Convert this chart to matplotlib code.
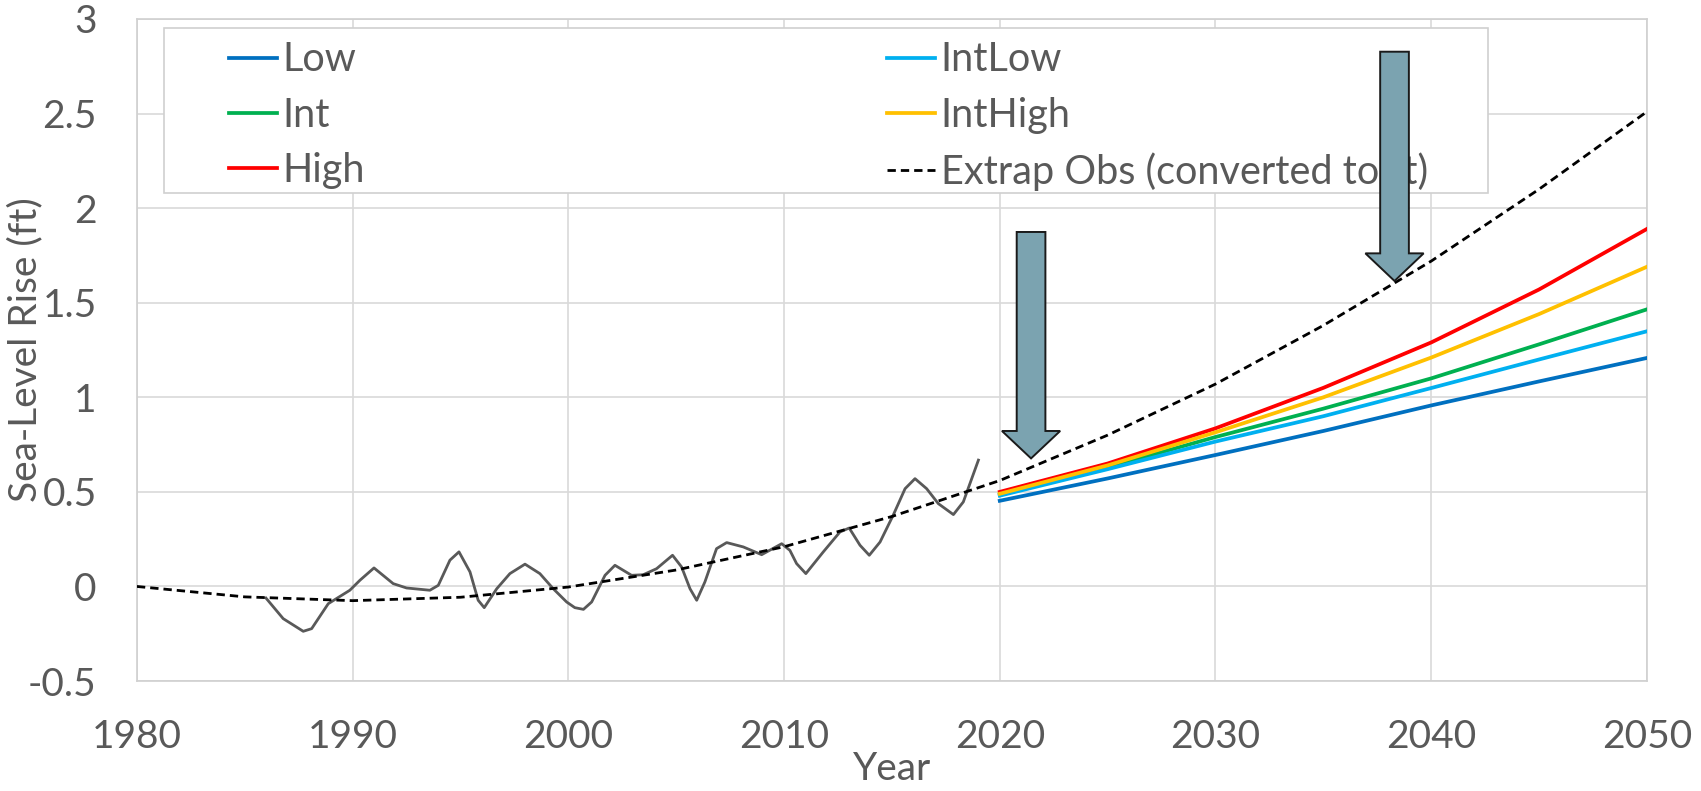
import matplotlib
matplotlib.use("Agg")
import matplotlib.pyplot as plt
from matplotlib.patches import FancyArrow, Rectangle

plt.rcParams['font.family'] = ['Lato', 'DejaVu Sans']

# observed sea level (smoothed), ft
obs_years = [1985.98, 1986.78, 1987.71, 1988.10, 1988.87, 1989.87, 1990.34, 1990.99, 1991.88,
             1992.50, 1993.58, 1993.97, 1994.51, 1994.93, 1995.44, 1995.82, 1996.10, 1996.68,
             1997.29, 1997.99, 1998.68, 1999.30, 1999.92, 2000.30, 2000.70, 2001.08, 2001.70,
             2002.16, 2002.93, 2003.47, 2004.09, 2004.83, 2005.25, 2005.64, 2005.95, 2006.33,
             2006.87, 2007.34, 2008.11, 2008.96, 2009.89, 2010.27, 2010.58, 2011.01, 2011.82,
             2012.59, 2013.02, 2013.52, 2013.95, 2014.45, 2015.06, 2015.61, 2016.07, 2016.61,
             2017.15, 2017.85, 2018.31, 2019.01]
obs_vals = [-0.061, -0.170, -0.237, -0.223, -0.091, -0.020, 0.033, 0.098, 0.015,
            -0.008, -0.020, 0.006, 0.139, 0.183, 0.077, -0.073, -0.112, -0.012,
            0.068, 0.118, 0.068, -0.012, -0.082, -0.112, -0.121, -0.082, 0.059,
            0.112, 0.059, 0.062, 0.094, 0.165, 0.103, -0.012, -0.073, 0.024,
            0.200, 0.232, 0.209, 0.168, 0.226, 0.191, 0.121, 0.068, 0.183,
            0.288, 0.309, 0.218, 0.165, 0.235, 0.377, 0.517, 0.570, 0.517,
            0.438, 0.380, 0.447, 0.668]

# extrapolated observations
extrap_years = [1980, 1985, 1990, 1995, 2000, 2005, 2010, 2015, 2020, 2025, 2030, 2035, 2040, 2045, 2050]
extrap_vals = [0.0, -0.055, -0.075, -0.057, -0.003, 0.087, 0.21, 0.37, 0.56, 0.80, 1.07, 1.38, 1.72, 2.10, 2.51]

# scenario projections
proj_years = [2020, 2025, 2030, 2035, 2040, 2045, 2050]
low = [0.453, 0.571, 0.695, 0.822, 0.957, 1.084, 1.208]
int_low = [0.48, 0.62, 0.766, 0.90, 1.049, 1.20, 1.349]
intermediate = [0.487, 0.63, 0.79, 0.94, 1.10, 1.28, 1.465]
int_high = [0.49, 0.64, 0.815, 1.0, 1.21, 1.44, 1.69]
high = [0.50, 0.65, 0.836, 1.05, 1.29, 1.57, 1.89]

scenario_names = ['Low', 'Int', 'High', 'IntLow', 'IntHigh']
scenario_vals = [low, intermediate, high, int_low, int_high]
scenario_colors = ['#0070C0', '#00B050', '#FF0000', '#00B0F0', '#FFC000']

# arrows: x, top y, tip y
arrow_x = [2021.45, 2038.3]
arrow_top = [1.874, 2.827]
arrow_tip = [0.677, 1.615]
arrow_head_len = [0.145, 0.146]

text_color = '#595959'
grid_color = '#d9d9d9'
fs = 28

fig = plt.figure(figsize=(17.01, 7.91), dpi=100)
ax = fig.add_axes([0.0805, 0.139, 0.8877, 0.837])

ax.plot(obs_years, obs_vals, color='#595959', lw=2.0, zorder=3)
extrap_line, = ax.plot(extrap_years, extrap_vals, color='black', lw=2.0, dashes=(3, 1.8),
                       zorder=4, label='Extrap Obs (converted to ft)')
lines = {}
for name, vals, col in zip(scenario_names, scenario_vals, scenario_colors):
    lines[name], = ax.plot(proj_years, vals, color=col, lw=2.7, label=name, zorder=3)

for x, top, tip, hl in zip(arrow_x, arrow_top, arrow_tip, arrow_head_len):
    ax.add_patch(FancyArrow(x, top, 0, tip - top, width=1.33, head_width=2.7,
                            head_length=hl, length_includes_head=True,
                            facecolor='#7BA3B0', edgecolor='#1a1a1a', lw=1.4, zorder=10))

ax.set_xlim(1980, 2050)
ax.set_ylim(-0.5, 3)
ax.set_xticks(range(1980, 2051, 10))
ax.set_yticks([-0.5, 0, 0.5, 1, 1.5, 2, 2.5, 3])
ax.set_yticklabels(['-0.5', '0', '0.5', '1', '1.5', '2', '2.5', '3'])
ax.grid(True, color=grid_color, lw=1.2)
ax.set_axisbelow(True)
for s in ax.spines.values():
    s.set_color('#d0d0d0')
    s.set_linewidth(1.2)
ax.tick_params(length=0, labelsize=fs, colors=text_color)
ax.tick_params(axis='y', pad=29)
ax.tick_params(axis='x', pad=27)

ax.set_xlabel('Year', fontsize=fs, color=text_color)
ax.xaxis.set_label_coords(0.5, -0.105)
ax.set_ylabel('Sea-Level Rise (ft)', fontsize=fs, color=text_color)
ax.yaxis.set_label_coords(-0.062, 0.5)

# legend frame
ax.add_patch(Rectangle((0.0179, 0.737), 0.8768, 0.2494, transform=ax.transAxes,
                       facecolor='white', edgecolor='#d0d0d0', lw=1.2, zorder=4.8))

leg_kw = dict(loc='upper left', borderaxespad=0, borderpad=0, frameon=False, fontsize=fs + 0.5,
              handlelength=1.22, handletextpad=0.14, labelspacing=0.46)
leg1 = ax.legend(handles=[lines['Low'], lines['Int'], lines['High']],
                 bbox_to_anchor=(0.0609, 0.966), **leg_kw)
leg1.set_zorder(5)
ax.add_artist(leg1)
leg2 = ax.legend(handles=[lines['IntLow'], lines['IntHigh'], extrap_line],
                 bbox_to_anchor=(0.4967, 0.966), **leg_kw)
leg2.set_zorder(5)
for lg in (leg1, leg2):
    for t in lg.get_texts():
        t.set_color(text_color)

fig.savefig('out.png', dpi=100)
